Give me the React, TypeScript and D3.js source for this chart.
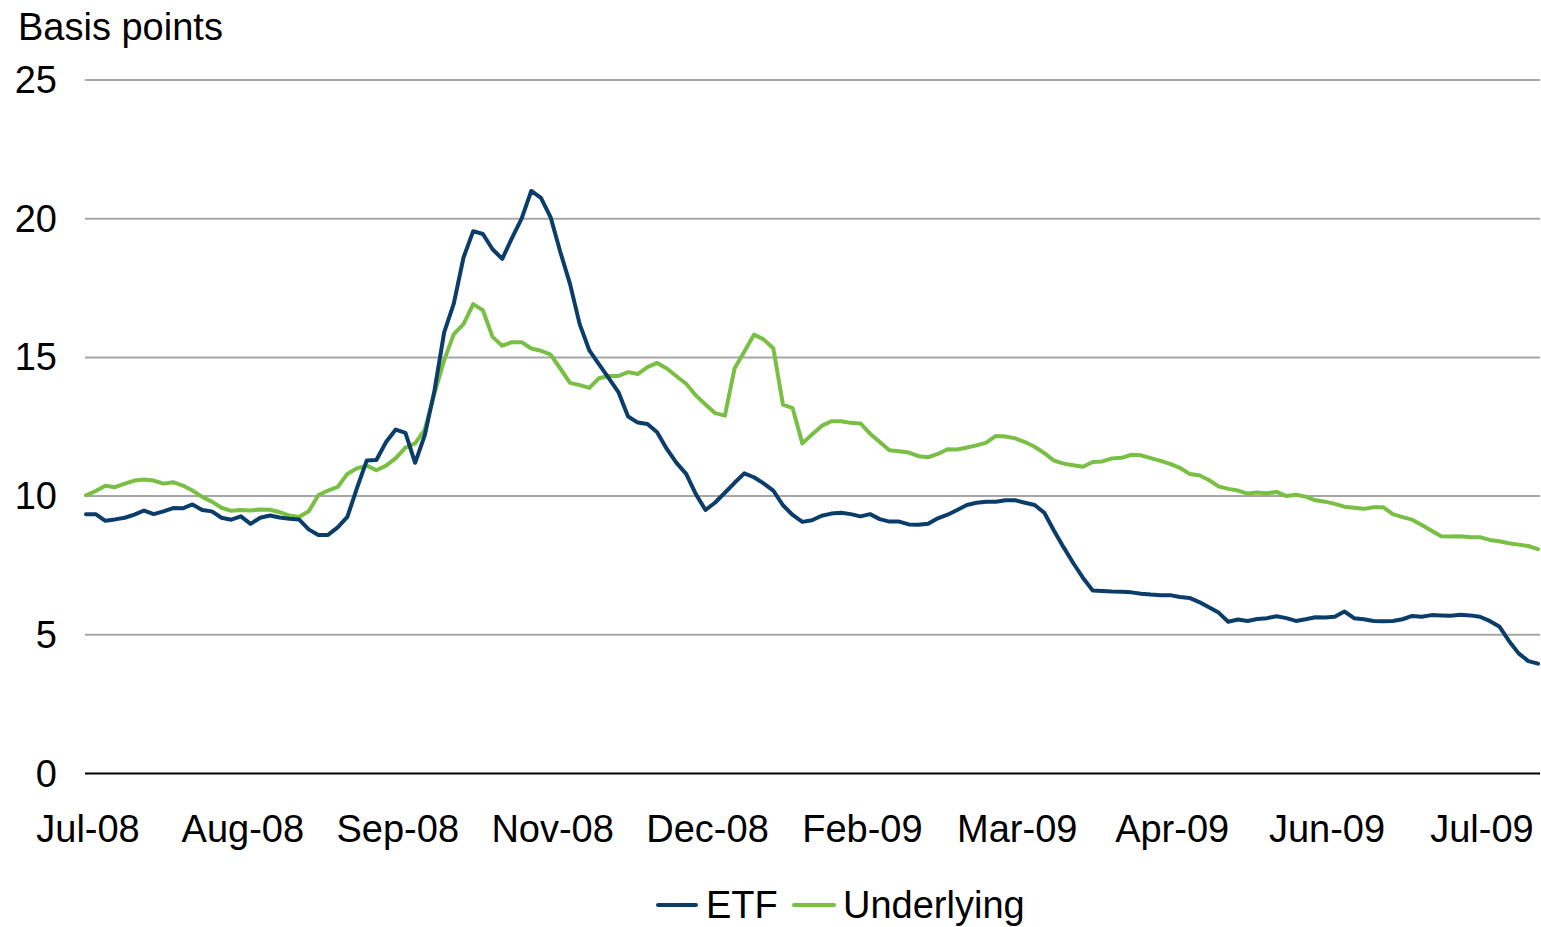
import * as d3 from 'd3';

// one value per trading-day sample
const etf = [
  9.35, 9.35, 9.11, 9.16, 9.22, 9.33, 9.48, 9.35, 9.45, 9.57,
  9.56, 9.7, 9.5, 9.45, 9.22, 9.15, 9.27, 9.0, 9.22, 9.3,
  9.23, 9.18, 9.16, 8.8, 8.6, 8.6, 8.87, 9.25, 10.3, 11.28,
  11.3, 11.95, 12.4, 12.28, 11.2, 12.2, 13.8, 15.9, 16.95, 18.6,
  19.55, 19.45, 18.9, 18.55, 19.3, 20.0, 21.0, 20.75, 20.05, 18.8,
  17.65, 16.2, 15.25, 14.75, 14.25, 13.75, 12.87, 12.65, 12.6, 12.3,
  11.7, 11.2, 10.8, 10.07, 9.5, 9.77, 10.12, 10.48, 10.82, 10.68,
  10.46, 10.2, 9.67, 9.32, 9.07, 9.13, 9.29, 9.37, 9.4, 9.35,
  9.27, 9.35, 9.17, 9.08, 9.08, 8.98, 8.97, 9.0, 9.2, 9.33,
  9.5, 9.68, 9.76, 9.8, 9.8, 9.85, 9.85, 9.76, 9.68, 9.4,
  8.75, 8.15, 7.58, 7.05, 6.6, 6.58, 6.56, 6.55, 6.53, 6.48,
  6.45, 6.43, 6.43, 6.36, 6.33, 6.18, 5.99, 5.8, 5.47, 5.55,
  5.5, 5.57, 5.6, 5.67, 5.6, 5.5, 5.56, 5.63, 5.62, 5.65,
  5.84, 5.6, 5.56, 5.5, 5.49, 5.5, 5.56, 5.68, 5.65, 5.71,
  5.7, 5.69, 5.72, 5.7, 5.65, 5.5, 5.3, 4.78, 4.33, 4.05,
  3.96,
];

const underlying = [
  10.03, 10.18, 10.37, 10.32, 10.45, 10.56, 10.6, 10.56, 10.45, 10.5,
  10.38, 10.2, 9.97, 9.8, 9.58, 9.47, 9.5, 9.48, 9.52, 9.51,
  9.42, 9.3, 9.25, 9.45, 10.03, 10.2, 10.33, 10.8, 11.0, 11.1,
  10.93, 11.1, 11.37, 11.75, 11.9, 12.4, 13.7, 14.9, 15.84, 16.2,
  16.92, 16.7, 15.74, 15.42, 15.55, 15.55, 15.32, 15.24, 15.1, 14.6,
  14.08, 14.0, 13.9, 14.25, 14.33, 14.33, 14.47, 14.4, 14.65, 14.8,
  14.6, 14.32, 14.05, 13.63, 13.3, 12.99, 12.9, 14.6, 15.2, 15.82,
  15.65, 15.33, 13.3, 13.17, 11.9, 12.22, 12.53, 12.7, 12.7, 12.64,
  12.62, 12.25, 11.95, 11.65, 11.62, 11.57, 11.44, 11.4, 11.52, 11.69,
  11.68, 11.75, 11.83, 11.93, 12.17, 12.15, 12.08, 11.95, 11.78, 11.55,
  11.28, 11.17, 11.11, 11.06, 11.23, 11.25, 11.36, 11.38, 11.49, 11.47,
  11.37, 11.27, 11.16, 11.02, 10.8, 10.75, 10.58, 10.35, 10.26, 10.2,
  10.09, 10.13, 10.1, 10.15, 10.0, 10.05, 9.98, 9.85, 9.8, 9.72,
  9.62, 9.58, 9.54, 9.6, 9.6, 9.35, 9.24, 9.15, 8.96, 8.75,
  8.55, 8.54, 8.55, 8.52, 8.52, 8.42, 8.37, 8.3, 8.25, 8.2,
  8.09,
];

const tickLabels = ['Jul-08', 'Aug-08', 'Sep-08', 'Nov-08', 'Dec-08', 'Feb-09', 'Mar-09', 'Apr-09', 'Jun-09', 'Jul-09'];
const tickEvery = 16;
const yTicks = [0, 5, 10, 15, 20, 25];

const seriesNames = ['ETF', 'Underlying'];
const seriesColors = ['#0b3d6b', '#78bf44'];

const W = 1541;
const H = 927;
const font = "'Liberation Sans', Arial, Helvetica, sans-serif";
const fs = 38;

export default function App() {
  const x = d3.scaleLinear().domain([0, etf.length - 1]).range([86, 1538]);
  const y = d3.scaleLinear().domain([0, 25]).range([773.5, 80]);

  const line = d3.line<number>()
    .x((_, i) => x(i))
    .y(d => y(d));

  const series = [etf, underlying];

  return (
    <div style={{ position: 'fixed', left: 0, top: 0 }}>
      <svg width={W} height={H} style={{ display: 'block', background: '#fff' }}>
        <text x={18} y={40} fontFamily={font} fontSize={fs} fill="#000">Basis points</text>

        {/* grid + y labels */}
        {yTicks.map(t => (
          <g key={t}>
            <line x1={85} x2={1540} y1={y(t)} y2={y(t)}
              stroke={t === 0 ? '#000' : '#a6a6a6'} strokeWidth={2} />
            <text x={57} y={y(t)} textAnchor="end" dominantBaseline="central"
              fontFamily={font} fontSize={fs} fill="#000">{t}</text>
          </g>
        ))}

        {/* x labels */}
        {tickLabels.map((lab, k) => (
          <text key={lab} x={x(k * tickEvery) + 2} y={842} textAnchor="middle"
            fontFamily={font} fontSize={fs} fill="#000">{lab}</text>
        ))}

        {/* lines, green under blue */}
        {[1, 0].map(s => (
          <path key={s} d={line(series[s]) || ''} fill="none" stroke={seriesColors[s]}
            strokeWidth={4} strokeLinejoin="round" strokeLinecap="round" />
        ))}

        {/* legend */}
        <g>
          <line x1={658} x2={696} y1={905} y2={905} stroke={seriesColors[0]} strokeWidth={4} strokeLinecap="round" />
          <text x={706} y={918} fontFamily={font} fontSize={fs} fill="#000">{seriesNames[0]}</text>
          <line x1={794} x2={834} y1={905} y2={905} stroke={seriesColors[1]} strokeWidth={4} strokeLinecap="round" />
          <text x={843} y={918} fontFamily={font} fontSize={fs} fill="#000">{seriesNames[1]}</text>
        </g>
      </svg>
    </div>
  );
}
